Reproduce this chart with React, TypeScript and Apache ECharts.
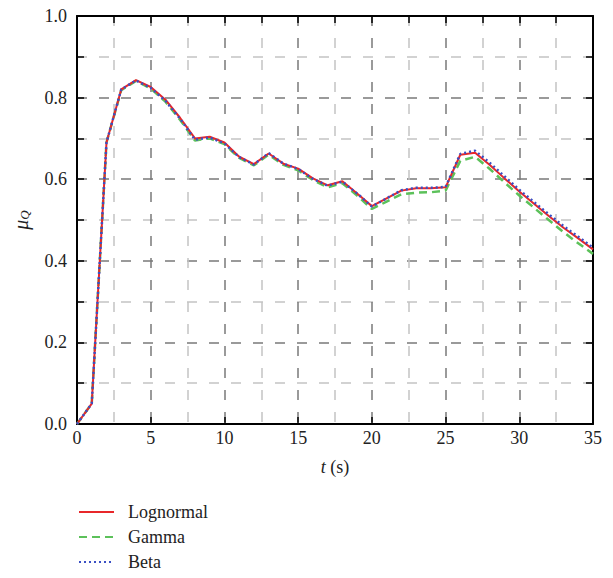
import React, { useEffect, useRef } from "react";
import * as echarts from "echarts";

const times = [0,1,2,3,4,5,6,7,8,9,10,11,12,13,14,15,16,17,18,19,20,21,22,23,24,25,26,27,28,29,30,31,32,33,34,35];
const lognormal = [0,0.05,0.69,0.82,0.843,0.826,0.795,0.75,0.70,0.704,0.69,0.655,0.637,0.663,0.638,0.626,0.602,0.585,0.595,0.565,0.534,0.553,0.572,0.578,0.578,0.580,0.660,0.665,0.635,0.602,0.570,0.540,0.510,0.481,0.455,0.428];
const gamma = [0,0.05,0.69,0.818,0.841,0.822,0.79,0.745,0.695,0.70,0.686,0.652,0.634,0.66,0.635,0.622,0.598,0.58,0.59,0.56,0.527,0.545,0.563,0.567,0.568,0.572,0.645,0.655,0.625,0.592,0.560,0.530,0.500,0.470,0.443,0.417];
const beta = [0,0.05,0.69,0.82,0.842,0.824,0.792,0.748,0.697,0.702,0.688,0.654,0.636,0.664,0.638,0.625,0.601,0.584,0.594,0.565,0.533,0.553,0.573,0.579,0.579,0.581,0.662,0.670,0.640,0.607,0.574,0.544,0.514,0.485,0.459,0.432];
const seriesNames = ["Lognormal", "Gamma", "Beta"];

const FONT = "Liberation Serif";

export default function App() {
  const ref = useRef<HTMLDivElement>(null);
  useEffect(() => {
    const chart = echarts.init(ref.current!, null, { renderer: "svg" });
    const mk = (arr: number[]) => times.map((t, i) => [t, arr[i]]);
    const axisLine = { show: true, onZero: false, lineStyle: { color: "#000", width: 2 } };
    const tick = { show: true, inside: true, length: 7, lineStyle: { color: "#000", width: 1.5 } };
    const dash = [10, 12];
    const altSplit = { show: true, lineStyle: { color: ["#7a7a7a", "#c4c4c4"], type: dash, width: 1.5 } };
    chart.setOption({
      animation: false,
      grid: { left: 77, top: 16, right: 20, bottom: 154 },
      xAxis: [
        {
          type: "value", min: 0, max: 35, interval: 5,
          axisLine, axisTick: tick,
          splitLine: { show: false },
          axisLabel: { color: "#222", fontFamily: FONT, fontSize: 18, margin: 5 },
          name: "{i|t} (s)", nameLocation: "middle", nameGap: 34,
          nameTextStyle: {
            fontFamily: FONT, fontSize: 18, color: "#222",
            rich: { i: { fontFamily: FONT, fontSize: 18, fontStyle: "italic", color: "#222" } },
          },
        },
        {
          type: "value", min: 0, max: 35, interval: 2.5, position: "top",
          axisLine, axisTick: tick,
          splitLine: altSplit, axisLabel: { show: false },
        },
      ],
      yAxis: [
        {
          type: "value", min: 0, max: 1, interval: 0.1,
          axisLine, axisTick: tick,
          splitLine: altSplit,
          axisLabel: {
            color: "#222", fontFamily: FONT, fontSize: 18, margin: 10,
            formatter: (v: number) => (Math.round(v * 10) % 2 === 0 ? v.toFixed(1) : ""),
          },
          name: "{mu|μ}{sub|Q}", nameLocation: "middle", nameGap: 46, nameRotate: 90,
          nameTextStyle: {
            rich: {
              mu: { fontFamily: FONT, fontStyle: "italic", fontSize: 20, color: "#222" },
              sub: { fontFamily: FONT, fontStyle: "italic", fontSize: 13, color: "#222", verticalAlign: "bottom", padding: [8, 0, 0, 0] },
            },
          },
        },
        {
          type: "value", min: 0, max: 1, interval: 0.1, position: "right",
          axisLine, axisTick: tick,
          splitLine: { show: false }, axisLabel: { show: false },
        },
      ],
      legend: {
        orient: "vertical", left: 73, top: 498, bottom: 0, itemGap: 7, itemWidth: 35, itemHeight: 14,
        itemStyle: { opacity: 0 },
        textStyle: { fontFamily: FONT, fontSize: 18, lineHeight: 18, color: "#222", padding: [0, 0, 0, 9] },
        data: seriesNames,
      },
      series: [
        { name: seriesNames[0], type: "line", data: mk(lognormal), showSymbol: false, symbol: "none",
          lineStyle: { color: "#e8272a", width: 2 }, itemStyle: { color: "#e8272a" }, z: 3 },
        { name: seriesNames[1], type: "line", data: mk(gamma), showSymbol: false, symbol: "none",
          lineStyle: { color: "#5cc15a", width: 2.5, type: [8, 5] }, itemStyle: { color: "#5cc15a" }, z: 2 },
        { name: seriesNames[2], type: "line", data: mk(beta), showSymbol: false, symbol: "none",
          lineStyle: { color: "#3a4fc4", width: 2.5, type: [2, 3] }, itemStyle: { color: "#3a4fc4" }, z: 4 },
      ],
    });
    return () => chart.dispose();
  }, []);
  return <div ref={ref} style={{ width: 613, height: 578, position: "absolute", left: 0, top: 0 }} />;
}
